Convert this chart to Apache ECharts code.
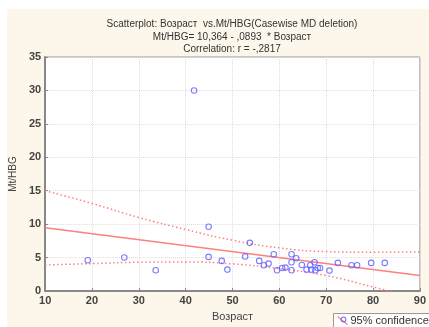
<!DOCTYPE html>
<html>
<head>
<meta charset="utf-8">
<script src="https://cdn.jsdelivr.net/npm/echarts@6/dist/echarts.min.js"></script>
<style>html,body{margin:0;padding:0;background:#fff}#c{width:429px;height:327px}</style>
</head>
<body>
<div id="c"></div>
<script>
var titleLines = ['Scatterplot: Возраст  vs.Mt/HBG(Casewise MD deletion)', 'Mt/HBG= 10,364 - ,0893  * Возраст', 'Correlation: r = -,2817'];
var xName = 'Возраст';
var yName = 'Mt/HBG';
var legendLabel = '95% confidence';
var xTicks = [10, 20, 30, 40, 50, 60, 70, 80, 90];
var yTicks = [0, 5, 10, 15, 20, 25, 30, 35];
var points = [[19.1,4.6],[26.9,5.0],[33.6,3.1],[41.8,30.0],[44.9,9.6],[44.9,5.1],[47.7,4.5],[48.9,3.2],[52.7,5.15],[53.7,7.2],[55.7,4.5],[56.7,3.85],[57.7,4.1],[58.8,5.5],[59.5,3.1],[60.6,3.45],[61.3,3.5],[62.6,5.5],[62.6,4.3],[62.6,3.1],[63.6,4.9],[64.8,3.9],[65.8,3.2],[66.6,3.85],[66.8,3.2],[67.5,4.3],[67.7,3.1],[68.2,3.45],[68.7,3.45],[70.7,3.05],[72.5,4.2],[75.4,3.85],[76.6,3.85],[79.6,4.2],[82.5,4.2]];
var fitLine = [[10, 9.47], [90, 2.33]];
var upperBand = [[10,15.0],[20,13.1],[30,11.0],[40,9.2],[50,7.6],[60,6.45],[70,5.9],[80,5.8],[90,5.85]];
var lowerBand = [[10,3.9],[20,4.1],[30,4.3],[40,4.35],[50,4.05],[60,3.35],[70,2.3],[80,0.6],[90,-1.2]];

var chart = echarts.init(document.getElementById('c'));
var red = '#ff7f7f';
var font = 'Liberation Sans, Arial, sans-serif';
chart.setOption({
  backgroundColor: '#ffffff',
  animation: false,
  title: {
    text: titleLines.join('\n'),
    left: 227, top: 13, textAlign: 'center',
    textStyle: {fontFamily: font, fontSize: 10, fontWeight: 'normal', color: '#333', lineHeight: 12.5}
  },
  graphic: [
    {type: 'rect', z: -10, silent: true, shape: {x: 7, y: 9, width: 440, height: 330}, style: {fill: '#fcf7ea'}},
    {type: 'group', left: 333, top: 313, children: [
      {type: 'rect', shape: {x: 0, y: 0, width: 110, height: 20}, style: {fill: '#fff', stroke: '#999', lineWidth: 1}},
      {type: 'line', shape: {x1: 4, y1: 3, x2: 14, y2: 11}, style: {stroke: red, lineWidth: 1.2}},
      {type: 'circle', shape: {cx: 10, cy: 6, r: 2.5}, style: {fill: 'none', stroke: '#5555ff', lineWidth: 1}},
      {type: 'text', style: {x: 17, y: 7, text: legendLabel, font: '11px ' + font, fill: '#333', verticalAlign: 'middle'}}
    ]}
  ],
  grid: {left: 43, top: 57, bottom: 30, right: -1, show: true, backgroundColor: '#fff', borderColor: '#999', borderWidth: 1},
  xAxis: {
    type: 'value', min: xTicks[0], max: xTicks[xTicks.length - 1], interval: 10,
    name: xName, nameLocation: 'middle', nameGap: 20,
    nameTextStyle: {fontFamily: font, fontSize: 11, color: '#444'},
    axisLine: {lineStyle: {color: '#888', width: 2}},
    axisTick: {inside: true, length: 3, lineStyle: {color: '#888'}},
    axisLabel: {fontFamily: font, fontSize: 11, color: '#444', margin: 4, fontWeight: 'bold'},
    splitLine: {show: true, lineStyle: {color: '#ddd', type: 'dotted'}}
  },
  yAxis: {
    type: 'value', min: yTicks[0], max: yTicks[yTicks.length - 1], interval: 5,
    name: yName, nameLocation: 'middle', nameGap: 21, nameRotate: 90,
    nameTextStyle: {fontFamily: font, fontSize: 10, color: '#444'},
    axisLine: {lineStyle: {color: '#888', width: 2}},
    axisTick: {inside: true, length: 3, lineStyle: {color: '#888'}},
    axisLabel: {fontFamily: font, fontSize: 11, color: '#444', margin: 4, fontWeight: 'bold'},
    splitLine: {show: true, lineStyle: {color: '#ddd', type: 'dotted'}}
  },
  series: [
    {type: 'line', data: upperBand, smooth: true, showSymbol: false, clip: true, lineStyle: {color: red, width: 1.5, type: [1.5, 2.5]}},
    {type: 'line', data: lowerBand, smooth: true, showSymbol: false, clip: true, lineStyle: {color: red, width: 1.5, type: [1.5, 2.5]}},
    {type: 'line', data: fitLine, showSymbol: false, clip: true, lineStyle: {color: red, width: 1.5}},
    {type: 'scatter', data: points, symbol: 'circle', symbolSize: 5.5, z: 5,
     itemStyle: {color: 'rgba(255,255,255,0)', borderColor: '#5c5cff', borderWidth: 1.1}}
  ]
});
</script>
</body>
</html>
